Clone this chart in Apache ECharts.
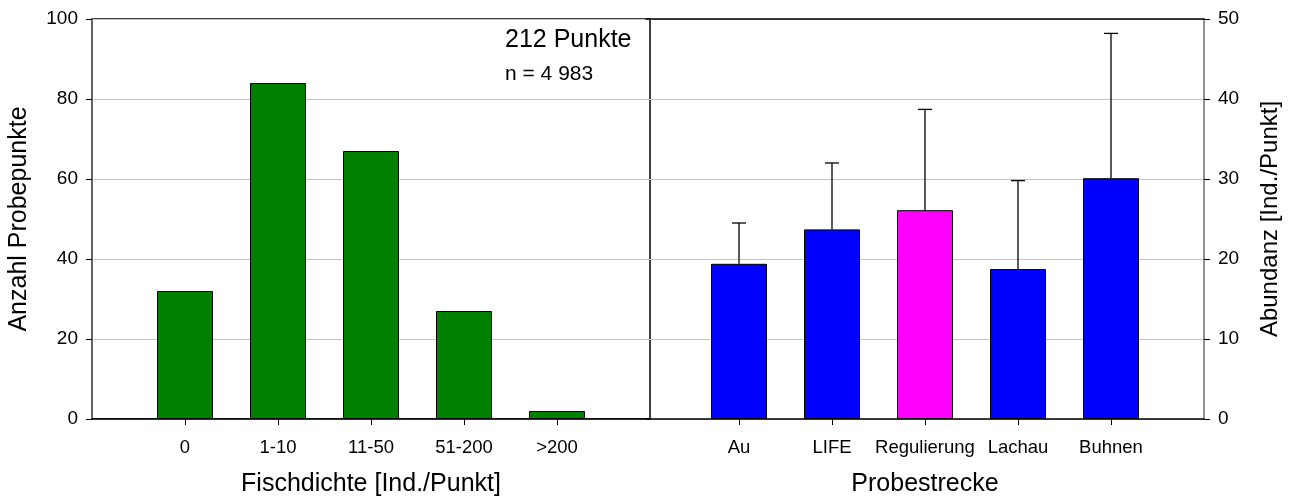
<!DOCTYPE html>
<html>
<head>
<meta charset="utf-8">
<script src="https://cdn.jsdelivr.net/npm/echarts@6/dist/echarts.min.js"></script>
<style>
html,body{margin:0;padding:0;background:#fff;}
#chart{width:1293px;height:502px;}
</style>
</head>
<body>
<div id="chart"></div>
<script>
// ---- data ----
const densityCategories = ['0', '1-10', '11-50', '51-200', '>200'];
const densityCounts = [32, 84, 67, 27, 2];
const stretchCategories = ['Au', 'LIFE', 'Regulierung', 'Lachau', 'Buhnen'];
const stretchMeans = [19.4, 23.7, 26.1, 18.75, 30.1];
const stretchErrors = [5.1, 8.3, 12.6, 11.05, 18.1];
const stretchColors = ['#0000ff', '#0000ff', '#ff00ff', '#0000ff', '#0000ff'];
const leftTicks = [0, 20, 40, 60, 80, 100];
const rightTicks = [0, 10, 20, 30, 40, 50];

const FONT = 'Liberation Sans, Arial, Helvetica, sans-serif';

// padded categories so that the first and last slots are empty edges
const padL = [''].concat(densityCategories, ['']);
const padR = [''].concat(stretchCategories, ['']);
const leftData = [null].concat(densityCounts, [null]);
const rightData = [null].concat(stretchMeans.map((v, i) => ({
  value: v, itemStyle: { color: stretchColors[i] }
})), [null]);
const errData = stretchMeans.map((v, i) => [i + 1, v, stretchErrors[i]]);

const chart = echarts.init(document.getElementById('chart'), null, { renderer: 'canvas' });

const tickFilter = (idx, val) => val !== '';

chart.setOption({
  animation: false,
  textStyle: { fontFamily: FONT },
  grid: [
    { left: 92, top: 19, width: 558, height: 402, show: true, borderColor: '#000', borderWidth: 1.5, backgroundColor: 'transparent' },
    { left: 646, top: 19, width: 558, height: 402 }
  ],
  xAxis: [
    {
      type: 'category', gridIndex: 0, data: padL, boundaryGap: false,
      axisLine: { lineStyle: { color: '#000', width: 1.5 } },
      axisTick: { length: 6, interval: tickFilter, lineStyle: { color: '#000' } },
      axisLabel: { interval: 0, color: '#000', fontSize: 18.5, margin: 19, fontFamily: FONT },
      name: 'Fischdichte [Ind./Punkt]', nameLocation: 'middle', nameGap: 53,
      nameTextStyle: { fontSize: 25, color: '#000', fontFamily: FONT },
      splitLine: { show: false }
    },
    {
      type: 'category', gridIndex: 1, data: padR, boundaryGap: false,
      axisLine: { lineStyle: { color: '#000', width: 1.5 } },
      axisTick: { length: 6, interval: tickFilter, lineStyle: { color: '#000' } },
      axisLabel: { interval: 0, color: '#000', fontSize: 18.5, margin: 19, fontFamily: FONT },
      name: 'Probestrecke', nameLocation: 'middle', nameGap: 53,
      nameTextStyle: { fontSize: 25, color: '#000', fontFamily: FONT },
      splitLine: { show: false }
    },
    {
      type: 'category', gridIndex: 1, data: padR, boundaryGap: false, position: 'top',
      axisLine: { lineStyle: { color: '#000', width: 1.5 } },
      axisTick: { show: false }, axisLabel: { show: false }, splitLine: { show: false }
    }
  ],
  yAxis: [
    {
      type: 'value', gridIndex: 0, min: 0, max: 100, interval: 20,
      axisLine: { show: true, lineStyle: { color: '#6e6e6e', width: 1.5 } },
      axisTick: { show: true, length: 6, lineStyle: { color: '#000' } },
      axisLabel: { color: '#000', fontSize: 19, margin: 14, fontFamily: FONT },
      splitLine: { show: true, lineStyle: { color: '#c4c4c4', width: 1 } },
      name: 'Anzahl Probepunkte', nameLocation: 'middle', nameGap: 60,
      nameTextStyle: { fontSize: 25, color: '#000', fontFamily: FONT }
    },
    {
      type: 'value', gridIndex: 1, min: 0, max: 50, interval: 10, position: 'right',
      axisLine: { show: true, lineStyle: { color: '#6e6e6e', width: 1.5 } },
      axisTick: { show: true, length: 6, lineStyle: { color: '#000' } },
      axisLabel: { color: '#000', fontSize: 19, margin: 14, fontFamily: FONT },
      splitLine: { show: true, lineStyle: { color: '#c4c4c4', width: 1 } },
      name: 'Abundanz [Ind./Punkt]', nameLocation: 'middle', nameGap: 54,
      nameTextStyle: { fontSize: 24, color: '#000', fontFamily: FONT }
    }
  ],
  series: [
    {
      type: 'bar', xAxisIndex: 0, yAxisIndex: 0, data: leftData, barWidth: 56,
      itemStyle: { color: '#008000', borderColor: '#000', borderWidth: 1 }, z: 3
    },
    {
      type: 'bar', xAxisIndex: 1, yAxisIndex: 1, data: rightData, barWidth: 56,
      itemStyle: { color: '#0000ff', borderColor: '#000', borderWidth: 1 }, z: 3
    },
    {
      type: 'custom', xAxisIndex: 1, yAxisIndex: 1, data: errData, z: 2,
      renderItem: function (params, api) {
        const x = api.value(0), m = api.value(1), e = api.value(2);
        const p0 = api.coord([x, m]);
        const p1 = api.coord([x, m + e]);
        const hw = 7;
        const style = { stroke: '#000', lineWidth: 1.3 };
        return {
          type: 'group',
          children: [
            { type: 'line', shape: { x1: p0[0], y1: p0[1], x2: p1[0], y2: p1[1] }, style: style },
            { type: 'line', shape: { x1: p1[0] - hw, y1: p1[1], x2: p1[0] + hw, y2: p1[1] }, style: style }
          ]
        };
      }
    }
  ],
  graphic: [
    { type: 'text', left: 505, top: 28, style: { text: '212 Punkte', font: '25px ' + FONT, fill: '#000' } },
    { type: 'text', left: 505, top: 64, style: { text: 'n = 4 983', font: '21px ' + FONT, fill: '#000' } }
  ]
});
</script>
</body>
</html>
